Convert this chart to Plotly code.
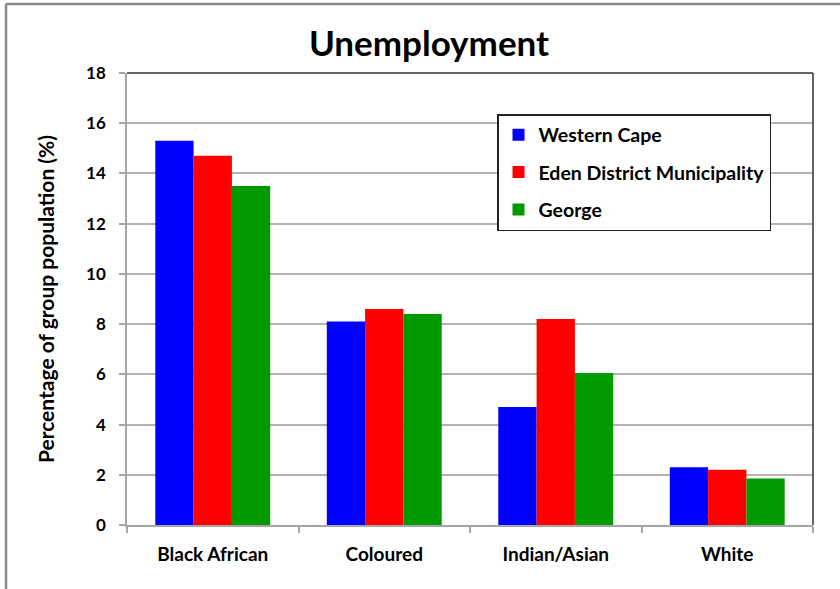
import plotly.graph_objects as go

categories = ["Black African", "Coloured", "Indian/Asian", "White"]
western_cape = [15.3, 8.1, 4.7, 2.3]
eden_district = [14.7, 8.6, 8.2, 2.2]
george = [13.5, 8.4, 6.05, 1.85]

series_names = ["Western Cape", "Eden District Municipality", "George"]
series_colors = ["#0000FF", "#FF0000", "#009900"]

FONT = "Lato, 'Open Sans', sans-serif"

fig = go.Figure()
for name, vals, col in zip(series_names, [western_cape, eden_district, george], series_colors):
    fig.add_trace(go.Bar(
        x=categories, y=vals, name=name, legendgroup=name,
        marker=dict(color=col, line=dict(width=0)),
    ))

W, H = 840, 589
L, R, T, B = 127, 27, 73, 64
pw, ph = W - L - R, H - T - B

def px(x):
    return (x - L) / pw

def py(y):
    return (H - B - y) / ph

shapes = [
    # outer chart frame (top and left edges)
    dict(type="line", xref="paper", yref="paper", x0=px(6), x1=px(845), y0=py(4), y1=py(4),
         line=dict(color="#8a8a8a", width=2.5)),
    dict(type="line", xref="paper", yref="paper", x0=px(6), x1=px(6), y0=py(4), y1=py(595),
         line=dict(color="#8a8a8a", width=2.5)),
    # plot area border, top and right
    dict(type="line", xref="paper", yref="paper", x0=0, x1=1, y0=1, y1=1,
         line=dict(color="#333333", width=1.5)),
    dict(type="line", xref="paper", yref="paper", x0=1, x1=1, y0=0, y1=1,
         line=dict(color="#333333", width=1.5)),
]

fig.update_layout(
    width=W, height=H,
    margin=dict(l=L, r=R, t=T, b=B, pad=0),
    paper_bgcolor="white", plot_bgcolor="white",
    barmode="group", bargap=0.33, bargroupgap=0,
    font=dict(family=FONT, color="#000000"),
    title=dict(text="<b>Unemployment</b>", x=429 / W, xref="container", xanchor="center",
               y=1 - 44 / H, yref="container", yanchor="middle",
               font=dict(size=35, family=FONT, color="#000000")),
    showlegend=True,
    legend=dict(
        x=px(497), y=py(114), xanchor="left", yanchor="top",
        xref="paper", yref="paper",
        bordercolor="#222222", borderwidth=1.5, bgcolor="white",
        font=dict(size=19.5, family=FONT, color="#000000", weight="bold"),
        tracegroupgap=9, traceorder="grouped",
        itemwidth=30,
    ),
    shapes=shapes,
)

fig.update_xaxes(
    showline=True, linecolor="#a6a6a6", linewidth=1.5,
    ticks="outside", tickson="boundaries", ticklen=6, tickcolor="#a6a6a6", tickwidth=1.5,
    ticklabelstandoff=11,
    tickfont=dict(size=19, family=FONT, color="#000000", weight="bold"),
    showgrid=False,
)
fig.update_yaxes(
    range=[0, 18], dtick=2, tick0=0,
    showline=True, linecolor="#a6a6a6", linewidth=1.5,
    ticks="outside", ticklen=6, tickcolor="#a6a6a6", tickwidth=1.5,
    ticklabelstandoff=10,
    showgrid=True, gridcolor="#b3b3b3", gridwidth=1.5,
    tickfont=dict(size=17, family=FONT, color="#000000", weight="bold"),
    title=dict(text="<b>Percentage of group population (%)</b>", standoff=26,
               font=dict(size=21, family=FONT, color="#000000")),
    zeroline=False,
)

fig.write_html("out.html")
